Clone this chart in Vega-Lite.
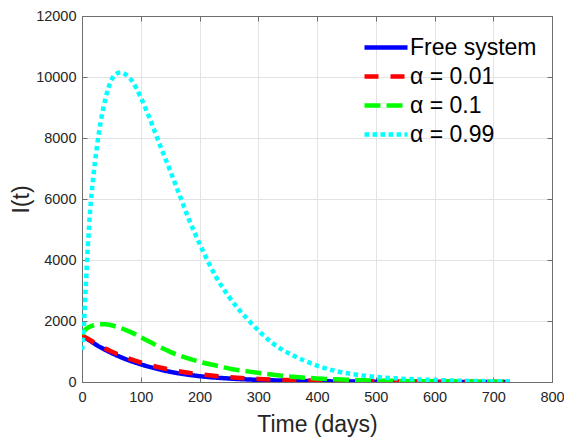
{
  "$schema": "https://vega.github.io/schema/vega-lite/v6.json",
  "width": 470,
  "height": 366,
  "autosize": {"type": "none"},
  "padding": {"left": 82, "top": 16, "right": 12, "bottom": 57},
  "background": "white",
  "config": {
    "font": "Liberation Sans",
    "view": {"stroke": null},
    "axis": {
      "domainColor": "#6e6e6e",
      "tickColor": "#6e6e6e",
      "gridColor": "#e3e3e3",
      "labelColor": "#262626",
      "titleColor": "#262626",
      "labelFontSize": 14.5,
      "titleFontSize": 23,
      "titleFontWeight": "normal",
      "tickSize": -5,
      "format": "d"
    }
  },
  "datasets": {
    "curves": [
      {"t": 0, "v": 1530, "s": "Free system"},
      {"t": 10, "v": 1400, "s": "Free system"},
      {"t": 25, "v": 1210, "s": "Free system"},
      {"t": 50, "v": 955, "s": "Free system"},
      {"t": 75, "v": 745, "s": "Free system"},
      {"t": 100, "v": 580, "s": "Free system"},
      {"t": 125, "v": 445, "s": "Free system"},
      {"t": 150, "v": 335, "s": "Free system"},
      {"t": 175, "v": 255, "s": "Free system"},
      {"t": 200, "v": 192, "s": "Free system"},
      {"t": 250, "v": 115, "s": "Free system"},
      {"t": 300, "v": 70, "s": "Free system"},
      {"t": 350, "v": 43, "s": "Free system"},
      {"t": 400, "v": 26, "s": "Free system"},
      {"t": 450, "v": 16, "s": "Free system"},
      {"t": 500, "v": 10, "s": "Free system"},
      {"t": 600, "v": 4, "s": "Free system"},
      {"t": 728, "v": 1, "s": "Free system"},

      {"t": 0, "v": 1530, "s": "α = 0.01"},
      {"t": 10, "v": 1420, "s": "α = 0.01"},
      {"t": 25, "v": 1240, "s": "α = 0.01"},
      {"t": 50, "v": 1000, "s": "α = 0.01"},
      {"t": 75, "v": 800, "s": "α = 0.01"},
      {"t": 100, "v": 640, "s": "α = 0.01"},
      {"t": 125, "v": 510, "s": "α = 0.01"},
      {"t": 150, "v": 405, "s": "α = 0.01"},
      {"t": 175, "v": 320, "s": "α = 0.01"},
      {"t": 200, "v": 255, "s": "α = 0.01"},
      {"t": 250, "v": 160, "s": "α = 0.01"},
      {"t": 300, "v": 100, "s": "α = 0.01"},
      {"t": 350, "v": 64, "s": "α = 0.01"},
      {"t": 400, "v": 41, "s": "α = 0.01"},
      {"t": 450, "v": 27, "s": "α = 0.01"},
      {"t": 500, "v": 18, "s": "α = 0.01"},
      {"t": 600, "v": 8, "s": "α = 0.01"},
      {"t": 728, "v": 3, "s": "α = 0.01"},

      {"t": 0, "v": 1550, "s": "α = 0.1"},
      {"t": 3, "v": 1660, "s": "α = 0.1"},
      {"t": 7, "v": 1740, "s": "α = 0.1"},
      {"t": 12, "v": 1800, "s": "α = 0.1"},
      {"t": 20, "v": 1860, "s": "α = 0.1"},
      {"t": 30, "v": 1895, "s": "α = 0.1"},
      {"t": 40, "v": 1895, "s": "α = 0.1"},
      {"t": 50, "v": 1860, "s": "α = 0.1"},
      {"t": 62, "v": 1790, "s": "α = 0.1"},
      {"t": 75, "v": 1700, "s": "α = 0.1"},
      {"t": 90, "v": 1570, "s": "α = 0.1"},
      {"t": 100, "v": 1470, "s": "α = 0.1"},
      {"t": 115, "v": 1320, "s": "α = 0.1"},
      {"t": 130, "v": 1170, "s": "α = 0.1"},
      {"t": 150, "v": 990, "s": "α = 0.1"},
      {"t": 175, "v": 810, "s": "α = 0.1"},
      {"t": 200, "v": 665, "s": "α = 0.1"},
      {"t": 228, "v": 540, "s": "α = 0.1"},
      {"t": 256, "v": 420, "s": "α = 0.1"},
      {"t": 285, "v": 340, "s": "α = 0.1"},
      {"t": 300, "v": 300, "s": "α = 0.1"},
      {"t": 341, "v": 205, "s": "α = 0.1"},
      {"t": 364, "v": 165, "s": "α = 0.1"},
      {"t": 400, "v": 115, "s": "α = 0.1"},
      {"t": 450, "v": 75, "s": "α = 0.1"},
      {"t": 511, "v": 45, "s": "α = 0.1"},
      {"t": 600, "v": 22, "s": "α = 0.1"},
      {"t": 650, "v": 15, "s": "α = 0.1"},
      {"t": 728, "v": 8, "s": "α = 0.1"},

      {"t": 0, "v": 1050, "s": "α = 0.99"},
      {"t": 1, "v": 1250, "s": "α = 0.99"},
      {"t": 2, "v": 1500, "s": "α = 0.99"},
      {"t": 3, "v": 1800, "s": "α = 0.99"},
      {"t": 4, "v": 2150, "s": "α = 0.99"},
      {"t": 5, "v": 2550, "s": "α = 0.99"},
      {"t": 6, "v": 2950, "s": "α = 0.99"},
      {"t": 8, "v": 3750, "s": "α = 0.99"},
      {"t": 10, "v": 4450, "s": "α = 0.99"},
      {"t": 12, "v": 5100, "s": "α = 0.99"},
      {"t": 15, "v": 5900, "s": "α = 0.99"},
      {"t": 18, "v": 6500, "s": "α = 0.99"},
      {"t": 22, "v": 7200, "s": "α = 0.99"},
      {"t": 26, "v": 7800, "s": "α = 0.99"},
      {"t": 32, "v": 8550, "s": "α = 0.99"},
      {"t": 40, "v": 9300, "s": "α = 0.99"},
      {"t": 50, "v": 9900, "s": "α = 0.99"},
      {"t": 58, "v": 10100, "s": "α = 0.99"},
      {"t": 66, "v": 10150, "s": "α = 0.99"},
      {"t": 75, "v": 10070, "s": "α = 0.99"},
      {"t": 86, "v": 9850, "s": "α = 0.99"},
      {"t": 100, "v": 9330, "s": "α = 0.99"},
      {"t": 115, "v": 8650, "s": "α = 0.99"},
      {"t": 131, "v": 7850, "s": "α = 0.99"},
      {"t": 148, "v": 7030, "s": "α = 0.99"},
      {"t": 165, "v": 6180, "s": "α = 0.99"},
      {"t": 182, "v": 5330, "s": "α = 0.99"},
      {"t": 205, "v": 4330, "s": "α = 0.99"},
      {"t": 228, "v": 3450, "s": "α = 0.99"},
      {"t": 250, "v": 2800, "s": "α = 0.99"},
      {"t": 285, "v": 1990, "s": "α = 0.99"},
      {"t": 324, "v": 1280, "s": "α = 0.99"},
      {"t": 375, "v": 730, "s": "α = 0.99"},
      {"t": 432, "v": 360, "s": "α = 0.99"},
      {"t": 483, "v": 200, "s": "α = 0.99"},
      {"t": 537, "v": 115, "s": "α = 0.99"},
      {"t": 600, "v": 65, "s": "α = 0.99"},
      {"t": 650, "v": 40, "s": "α = 0.99"},
      {"t": 700, "v": 25, "s": "α = 0.99"},
      {"t": 728, "v": 20, "s": "α = 0.99"}
    ]
  },
  "data": {"name": "curves"},
  "layer": [
    {
      "mark": {"type": "line", "strokeWidth": 4.5, "strokeCap": "butt", "interpolate": "monotone", "clip": true},
      "encoding": {
        "x": {
          "field": "t", "type": "quantitative",
          "scale": {"domain": [0, 800], "nice": false},
          "axis": {"values": [0, 100, 200, 300, 400, 500, 600, 700, 800], "grid": true, "title": "Time (days)", "labelPadding": 13, "titlePadding": 10, "labelFlush": false}
        },
        "y": {
          "field": "v", "type": "quantitative",
          "scale": {"domain": [0, 12000], "nice": false},
          "axis": {"values": [0, 2000, 4000, 6000, 8000, 10000, 12000], "grid": true, "title": "I(t)", "labelPadding": 11, "titlePadding": 2, "labelFlush": false}
        },
        "color": {
          "field": "s", "type": "nominal",
          "scale": {"domain": ["Free system", "α = 0.01", "α = 0.1", "α = 0.99"], "range": ["#0000ff", "#ff0000", "#00ff00", "#00ffff"]},
          "legend": {
            "orient": "none", "legendX": 280, "legendY": 17, "title": null,
            "symbolType": "stroke", "symbolSize": 1850, "symbolStrokeWidth": 4.5,
            "labelFontSize": 23, "labelColor": "#000000", "rowPadding": 0, "clipHeight": 29,
            "padding": 0, "labelOffset": 0
          }
        },
        "strokeDash": {
          "field": "s", "type": "nominal",
          "scale": {"domain": ["Free system", "α = 0.01", "α = 0.1", "α = 0.99"], "range": [[1, 0], [14, 12], [16, 6], [4.5, 3.5]]},
          "legend": {
            "orient": "none", "legendX": 280, "legendY": 17, "title": null,
            "symbolType": "stroke", "symbolSize": 1850, "symbolStrokeWidth": 4.5,
            "labelFontSize": 23, "labelColor": "#000000", "rowPadding": 0, "clipHeight": 29,
            "padding": 0, "labelOffset": 0
          }
        },
        "order": {"field": "t", "type": "quantitative"}
      }
    },
    {
      "mark": {"type": "line", "opacity": 0},
      "encoding": {
        "x": {
          "field": "t", "type": "quantitative",
          "axis": {"orient": "top", "values": [0, 100, 200, 300, 400, 500, 600, 700, 800], "labels": false, "title": null, "grid": false}
        },
        "y": {
          "field": "v", "type": "quantitative",
          "axis": {"orient": "right", "values": [0, 2000, 4000, 6000, 8000, 10000, 12000], "labels": false, "title": null, "grid": false}
        },
        "detail": {"field": "s"}
      }
    }
  ],
  "resolve": {"axis": {"x": "independent", "y": "independent"}}
}
